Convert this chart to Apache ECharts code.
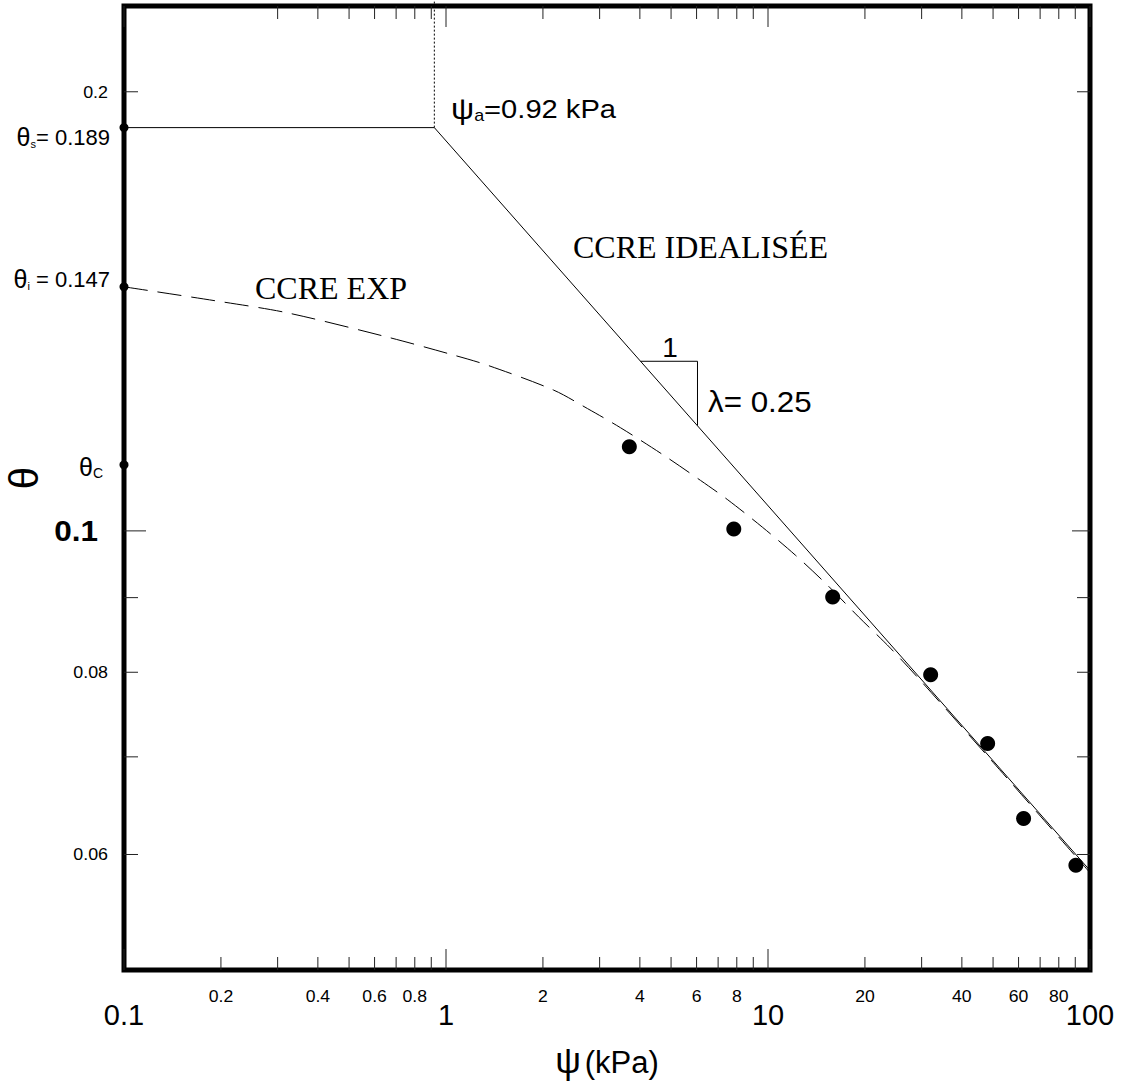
<!DOCTYPE html>
<html><head><meta charset="utf-8">
<script src="https://cdn.jsdelivr.net/npm/echarts@6/dist/echarts.min.js"></script>
<style>html,body{margin:0;padding:0;background:#fff}#c{width:1126px;height:1084px}</style>
</head><body><div id="c"></div>
<script>
// ---- data ----
const xMajorTicks = [0.1, 1, 10, 100];
const xBottomMinorTicks = [0.2,0.3,0.4,0.5,0.6,0.7,0.8,0.9,2,3,4,5,6,7,8,9,20,30,40,50,60,70,80,90];
const xTopMinorTicks = [0.3,0.4,0.5,0.6,0.7,0.8,0.9,2,3,4,5,6,7,8,9,20,30,40,50,60,70,80,90];
const xMinorLabels = [0.2,0.4,0.6,0.8,2,4,6,8,20,40,60,80];
const yMinorTicks = [0.06,0.07,0.08,0.09,0.2];
const yMajorTicks = [0.1];
const ySmallLabels = [0.06,0.08,0.2];
const yBigLabels = [0.1];

const psiMeasured = [3.71, 7.83, 15.88, 32.0, 48.1, 62.2, 90.4];
const thetaMeasured = [0.1142, 0.1003, 0.0901, 0.0797, 0.0715, 0.0635, 0.0590];

const psiIdeal = [0.1, 0.92, 100];
const thetaIdeal = [0.189, 0.189, 0.0585];

const psiAirEntry = [0.92, 0.92];
const thetaAirEntry = [0.189, 0.232];

const psiExp = [0.1, 0.2, 0.321, 0.657, 1.054, 1.344, 2.157, 2.75, 3.48, 4.74, 6.17, 7.47, 9.60, 12.19, 15.29, 19.12, 24.0, 30, 50, 100];
const thetaExp = [0.147, 0.1436, 0.1411, 0.1358, 0.1320, 0.1299, 0.1249, 0.1213, 0.1177, 0.1127, 0.1083, 0.1051, 0.1006, 0.0962, 0.0918, 0.0873, 0.0831, 0.0788, 0.0694, 0.0583];

const psiSlope = [4.02, 6.04, 6.04];
const thetaSlope = [0.1307, 0.1307, 0.1181];

const psiAxisPts = [0.1, 0.1, 0.1];
const thetaAxisPts = [0.189, 0.147, 0.111];

const zip = (a, b) => a.map((v, i) => [v, b[i]]);

// ---- chart ----
const SANS = '"Liberation Sans", Arial, sans-serif';
const SERIF = '"Liberation Serif", "Times New Roman", serif';
const chart = echarts.init(document.getElementById('c'), null, {renderer: 'svg'});

function xTicksRender(params, api) {
  const cs = params.coordSys;
  const px = api.coord([api.value(0), 0.1])[0];
  const len = api.value(1) ? 21 : 13;
  const side = api.value(2); // 0 bottom, 1 top
  const b = cs.y + cs.height, t = cs.y;
  const shape = side ? {x1: px, y1: t, x2: px, y2: t + len} : {x1: px, y1: b, x2: px, y2: b - len};
  return {type: 'line', shape, style: {stroke: '#222', lineWidth: 1}};
}
function yTicksRender(params, api) {
  const cs = params.coordSys;
  const py = api.coord([0.1, api.value(0)])[1];
  const len = api.value(1) ? 22 : 14;
  const l = cs.x, r = cs.x + cs.width;
  return {type: 'group', children: [
    {type: 'line', shape: {x1: l, y1: py, x2: l + len, y2: py}, style: {stroke: '#222', lineWidth: 1}},
    {type: 'line', shape: {x1: r, y1: py, x2: r - (api.value(1) ? 18 : 13), y2: py}, style: {stroke: '#222', lineWidth: 1}}
  ]};
}
function xLabelRender(params, api) {
  const cs = params.coordSys;
  const px = api.coord([api.value(0), 0.1])[0];
  return {type: 'text', x: px, y: cs.y + cs.height + 19, scaleX: 1.1,
    style: {text: String(api.value(0)), fontSize: 16, fontFamily: SANS, fill: '#000', align: 'center', verticalAlign: 'top'}};
}
function yLabelRender(params, api) {
  const cs = params.coordSys;
  const py = api.coord([0.1, api.value(0)])[1];
  const big = api.value(1);
  return {type: 'text', x: cs.x - (big ? 26 : 16), y: py, scaleX: 1.05,
    style: {text: String(api.value(0)), fontSize: big ? 30 : 17, fontWeight: big ? 'bold' : 'normal',
      fontFamily: SANS, fill: '#000', align: 'right', verticalAlign: 'middle'}};
}

const xTickData = xBottomMinorTicks.map(v => [v, 0, 0])
  .concat(xTopMinorTicks.map(v => [v, 0, 1]))
  .concat(xMajorTicks.map(v => [v, 1, 0]))
  .concat(xMajorTicks.map(v => [v, 1, 1]));
const yTickData = yMinorTicks.map(v => [v, 0]).concat(yMajorTicks.map(v => [v, 1]));
const yLabelData = ySmallLabels.map(v => [v, 0]).concat(yBigLabels.map(v => [v, 1]));

const thetaRich = {
  t: {fontSize: 25, fontFamily: SANS, fill: '#000'},
  s: {fontSize: 11, fontFamily: SANS, verticalAlign: 'bottom', lineHeight: 4},
  c: {fontSize: 14, fontFamily: SANS, verticalAlign: 'bottom', lineHeight: 8},
  n: {fontSize: 22, fontFamily: SANS}
};

const option = {
  animation: false,
  backgroundColor: '#fff',
  grid: {left: 124, right: 36, top: 6, bottom: 114, show: true, borderColor: '#000', borderWidth: 5,
    backgroundColor: 'transparent', outerBoundsMode: 'none', containLabel: false},
  xAxis: {
    type: 'log', logBase: 10, min: 0.1, max: 100,
    axisLine: {show: false}, axisTick: {show: false}, splitLine: {show: false}, minorTick: {show: false},
    axisLabel: {show: true, fontSize: 29, fontFamily: SANS, color: '#000', margin: 30,
      formatter: v => String(+(+v).toPrecision(3))},
    name: '{p|ψ}{k|(kPa)}', nameLocation: 'middle', nameGap: 72,
    nameTextStyle: {fontSize: 30, fontFamily: SANS, color: '#000',
      rich: {p: {fontSize: 36, fontFamily: SANS, color: '#000', padding: [0, 4, 4, 0]},
             k: {fontSize: 31, fontFamily: SANS, color: '#000'}}}
  },
  yAxis: {
    type: 'log', logBase: 10, min: 0.05, max: 0.229,
    axisLine: {show: false}, axisTick: {show: false}, splitLine: {show: false}, axisLabel: {show: false},
    name: 'θ', nameLocation: 'middle', nameGap: 80, nameRotate: 90,
    nameTextStyle: {fontSize: 40, fontFamily: SANS, color: '#000', padding: [0, 0, 0, 20]}
  },
  series: [
    {type: 'custom', name: 'xticks', renderItem: xTicksRender, data: xTickData, encode: {x: 0}, clip: false, silent: true, z: 5},
    {type: 'custom', name: 'yticks', renderItem: yTicksRender, data: yTickData, encode: {y: 0}, clip: false, silent: true, z: 5},
    {type: 'custom', name: 'xlabels', renderItem: xLabelRender, data: xMinorLabels.map(v => [v]), encode: {x: 0}, clip: false, silent: true},
    {type: 'custom', name: 'ylabels', renderItem: yLabelRender, data: yLabelData, encode: {y: 0}, clip: false, silent: true},
    {type: 'line', name: 'CCRE IDEALISÉE', data: zip(psiIdeal, thetaIdeal), symbol: 'none',
      lineStyle: {color: '#000', width: 1}, clip: false, z: 3},
    {type: 'line', name: 'psi_a', data: zip(psiAirEntry, thetaAirEntry), symbol: 'none',
      lineStyle: {color: '#000', width: 1, type: [2, 2]}, clip: false, z: 3},
    {type: 'line', name: 'CCRE EXP', data: zip(psiExp, thetaExp), symbol: 'none', smooth: 0.3,
      lineStyle: {color: '#000', width: 1, type: [24, 10]}, z: 3},
    {type: 'line', name: 'slope', data: zip(psiSlope, thetaSlope), symbol: 'none',
      lineStyle: {color: '#000', width: 1}, z: 3},
    {type: 'scatter', name: 'mesures', data: zip(psiMeasured, thetaMeasured), symbol: 'circle', symbolSize: 15,
      itemStyle: {color: '#000', opacity: 1}, z: 4},
    {type: 'scatter', name: 'axis', data: zip(psiAxisPts, thetaAxisPts), symbol: 'circle', symbolSize: 9,
      itemStyle: {color: '#000', opacity: 1}, clip: false, z: 6}
  ],
  graphic: [
    {type: 'text', x: 110, y: 137, z: 10, style: {text: '{t|θ}{s|s}{n|= 0.189}', rich: thetaRich, align: 'right', verticalAlign: 'middle'}},
    {type: 'text', x: 110, y: 279, z: 10, style: {text: '{t|θ}{s|i}{n| = 0.147}', rich: thetaRich, align: 'right', verticalAlign: 'middle'}},
    {type: 'text', x: 103, y: 467, z: 10, style: {text: '{t|θ}{c|C}', rich: thetaRich, align: 'right', verticalAlign: 'middle'}},
    {type: 'text', x: 451, y: 109, z: 10, scaleX: 1.12, style: {text: '{p|ψ}{a|a}{n|=0.92 kPa}', align: 'left', verticalAlign: 'middle',
      rich: {p: {fontSize: 29, fontFamily: SANS}, a: {fontSize: 16, fontFamily: SANS, verticalAlign: 'bottom', lineHeight: 8}, n: {fontSize: 26, fontFamily: SANS}}}},
    {type: 'text', x: 573, y: 247, z: 10, style: {text: 'CCRE IDEALISÉE', fontSize: 32, fontFamily: SERIF, fill: '#000', align: 'left', verticalAlign: 'middle'}},
    {type: 'text', x: 255, y: 288, z: 10, style: {text: 'CCRE EXP', fontSize: 32, fontFamily: SERIF, fill: '#000', align: 'left', verticalAlign: 'middle'}},
    {type: 'text', x: 670, y: 347, z: 10, style: {text: '1', fontSize: 28, fontFamily: SANS, fill: '#000', align: 'center', verticalAlign: 'middle'}},
    {type: 'text', x: 708, y: 402, z: 10, scaleX: 1.08, style: {text: 'λ= 0.25', fontSize: 29, fontFamily: SANS, fill: '#000', align: 'left', verticalAlign: 'middle'}}
  ]
};
chart.setOption(option);
</script>
</body></html>
